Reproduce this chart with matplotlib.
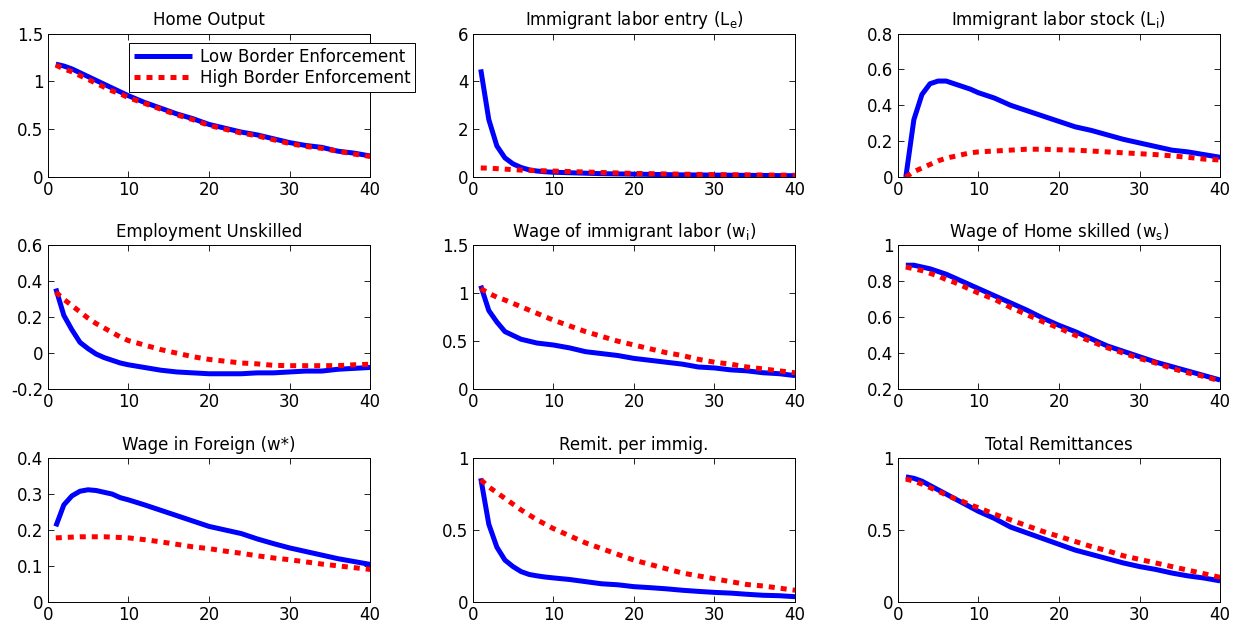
import numpy as np
import matplotlib
matplotlib.use("Agg")
import matplotlib.pyplot as plt
from matplotlib.ticker import FuncFormatter

plt.rcParams['font.family'] = ['DejaVu Sans']
plt.rcParams['mathtext.fontset'] = 'dejavusans'

# periods
t = [1, 2, 3, 4, 5, 6, 7, 8, 9, 10, 12, 14, 16, 18, 20, 22, 24, 26, 28, 30, 32, 34, 36, 38, 40]

titles = ['Home Output', 'Immigrant labor entry (L$_\\mathregular{e}$)',
          'Immigrant labor stock (L$_\\mathregular{i}$)', 'Employment Unskilled',
          'Wage of immigrant labor (w$_\\mathregular{i}$)', 'Wage of Home skilled (w$_\\mathregular{s}$)',
          'Wage in Foreign (w*)', 'Remit. per immig.', 'Total Remittances']

output_low = [1.18, 1.16, 1.13, 1.09, 1.05, 1.01, 0.97, 0.93, 0.89, 0.85, 0.78, 0.72, 0.66, 0.61, 0.55,
              0.51, 0.47, 0.44, 0.40, 0.36, 0.33, 0.31, 0.27, 0.25, 0.22]
output_high = [1.17, 1.13, 1.10, 1.06, 1.02, 0.98, 0.94, 0.90, 0.87, 0.83, 0.77, 0.71, 0.65, 0.60, 0.54,
               0.50, 0.46, 0.43, 0.39, 0.35, 0.32, 0.30, 0.27, 0.24, 0.215]

entry_low = [4.5, 2.4, 1.3, 0.8, 0.55, 0.4, 0.3, 0.25, 0.22, 0.2, 0.18, 0.16, 0.14, 0.13, 0.12,
             0.11, 0.1, 0.09, 0.085, 0.08, 0.075, 0.07, 0.065, 0.06, 0.055]
entry_high = [0.38, 0.37, 0.35, 0.33, 0.31, 0.29, 0.28, 0.27, 0.26, 0.25, 0.23, 0.21, 0.19, 0.17, 0.15,
              0.14, 0.13, 0.12, 0.11, 0.10, 0.095, 0.09, 0.085, 0.08, 0.075]

stock_low = [0.0, 0.32, 0.46, 0.52, 0.535, 0.535, 0.52, 0.505, 0.49, 0.47, 0.44, 0.40, 0.37, 0.34, 0.31,
             0.28, 0.26, 0.235, 0.21, 0.19, 0.17, 0.15, 0.14, 0.125, 0.11]
stock_high = [0.0, 0.03, 0.05, 0.07, 0.09, 0.105, 0.115, 0.125, 0.135, 0.14, 0.145, 0.15, 0.155, 0.155, 0.152,
              0.15, 0.145, 0.14, 0.135, 0.13, 0.125, 0.118, 0.11, 0.10, 0.095]

unsk_low = [0.36, 0.21, 0.13, 0.06, 0.025, -0.005, -0.025, -0.04, -0.055, -0.065, -0.08, -0.095, -0.105,
            -0.11, -0.115, -0.115, -0.115, -0.11, -0.11, -0.105, -0.1, -0.1, -0.09, -0.085, -0.08]
unsk_high = [0.34, 0.30, 0.265, 0.23, 0.195, 0.165, 0.14, 0.115, 0.09, 0.07, 0.045, 0.02, 0.0, -0.02, -0.035,
             -0.045, -0.055, -0.06, -0.068, -0.07, -0.07, -0.07, -0.07, -0.065, -0.062]

wi_low = [1.08, 0.82, 0.7, 0.6, 0.56, 0.52, 0.5, 0.48, 0.47, 0.46, 0.43, 0.39, 0.37, 0.35, 0.32,
          0.30, 0.28, 0.26, 0.23, 0.22, 0.2, 0.19, 0.17, 0.16, 0.14]
wi_high = [1.05, 1.0, 0.96, 0.93, 0.895, 0.86, 0.825, 0.79, 0.755, 0.72, 0.66, 0.6, 0.55, 0.5, 0.46,
           0.42, 0.38, 0.35, 0.31, 0.28, 0.26, 0.23, 0.21, 0.19, 0.17]

ws_low = [0.89, 0.89, 0.88, 0.87, 0.855, 0.84, 0.82, 0.8, 0.78, 0.76, 0.72, 0.68, 0.64, 0.595, 0.555,
          0.52, 0.48, 0.44, 0.41, 0.38, 0.35, 0.325, 0.3, 0.275, 0.25]
ws_high = [0.88, 0.87, 0.86, 0.845, 0.83, 0.81, 0.795, 0.775, 0.755, 0.735, 0.7, 0.655, 0.615, 0.575, 0.54,
           0.5, 0.465, 0.43, 0.4, 0.37, 0.345, 0.315, 0.29, 0.27, 0.245]

wf_low = [0.21, 0.27, 0.295, 0.308, 0.312, 0.31, 0.305, 0.3, 0.29, 0.284, 0.27, 0.255, 0.24, 0.225, 0.21,
          0.2, 0.19, 0.175, 0.162, 0.15, 0.14, 0.13, 0.12, 0.112, 0.104]
wf_high = [0.178, 0.179, 0.18, 0.181, 0.181, 0.181, 0.181, 0.18, 0.179, 0.178, 0.173, 0.167, 0.16, 0.153, 0.148,
           0.141, 0.135, 0.128, 0.122, 0.117, 0.111, 0.105, 0.1, 0.095, 0.09]

rem_low = [0.86, 0.54, 0.38, 0.29, 0.245, 0.21, 0.19, 0.18, 0.172, 0.166, 0.155, 0.14, 0.125, 0.118, 0.105,
           0.098, 0.09, 0.08, 0.072, 0.065, 0.06, 0.052, 0.045, 0.042, 0.035]
rem_high = [0.85, 0.8, 0.76, 0.72, 0.68, 0.64, 0.605, 0.57, 0.54, 0.51, 0.46, 0.41, 0.37, 0.33, 0.29,
            0.26, 0.23, 0.2, 0.18, 0.16, 0.14, 0.12, 0.11, 0.095, 0.08]

tot_low = [0.87, 0.86, 0.84, 0.81, 0.78, 0.75, 0.72, 0.69, 0.66, 0.63, 0.58, 0.52, 0.48, 0.44, 0.4,
           0.36, 0.33, 0.3, 0.27, 0.245, 0.225, 0.2, 0.18, 0.165, 0.145]
tot_high = [0.855, 0.84, 0.82, 0.795, 0.77, 0.745, 0.72, 0.7, 0.675, 0.655, 0.61, 0.57, 0.53, 0.49, 0.455,
            0.42, 0.385, 0.355, 0.32, 0.295, 0.27, 0.245, 0.22, 0.195, 0.17]

low = [output_low, entry_low, stock_low, unsk_low, wi_low, ws_low, wf_low, rem_low, tot_low]
high = [output_high, entry_high, stock_high, unsk_high, wi_high, ws_high, wf_high, rem_high, tot_high]

ylims = [(0, 1.5), (0, 6), (0, 0.8), (-0.2, 0.6), (0, 1.5), (0.2, 1), (0, 0.4), (0, 1), (0, 1)]
yticks = [[0, 0.5, 1, 1.5], [0, 2, 4, 6], [0, 0.2, 0.4, 0.6, 0.8], [-0.2, 0, 0.2, 0.4, 0.6],
          [0, 0.5, 1, 1.5], [0.2, 0.4, 0.6, 0.8, 1], [0, 0.1, 0.2, 0.3, 0.4], [0, 0.5, 1], [0, 0.5, 1]]

fig = plt.figure(figsize=(12.4, 6.24), dpi=100)

lefts = [0.0385, 0.3812, 0.724]
bottoms = [0.7163, 0.3766, 0.0357]
w = 0.26
h = 0.23

fmt = FuncFormatter(lambda v, p: '%g' % v)

axes = []
for i in range(9):
    r = i // 3
    c = i % 3
    ax = fig.add_axes([lefts[c], bottoms[r], w, h])
    ax.plot(t, low[i], color='#0000ff', lw=3.6, solid_capstyle='butt',
            label='Low Border Enforcement')
    ax.plot(t, high[i], color='#ff0000', lw=3.6, linestyle=(0, (1.2, 1.2)),
            label='High Border Enforcement')
    ax.set_xlim(0, 40)
    ax.set_ylim(*ylims[i])
    ax.set_xticks([0, 10, 20, 30, 40])
    ax.set_yticks(yticks[i])
    ax.yaxis.set_major_formatter(fmt)
    ax.tick_params(direction='in', top=True, right=True, length=4, width=0.6,
                   labelsize=12, pad=3)
    for s in ax.spines.values():
        s.set_linewidth(0.7)
    ax.set_title(titles[i], fontsize=12, pad=6)
    axes.append(ax)

leg = axes[0].legend(loc='upper left', bbox_to_anchor=(0.252, 0.934), fontsize=12,
                     handlelength=3.5, borderpad=0.3, labelspacing=0.2, handletextpad=0.45,
                     borderaxespad=0, fancybox=False, framealpha=1, edgecolor='black')
leg.get_frame().set_linewidth(0.7)

fig.savefig('out.png', dpi=100)
